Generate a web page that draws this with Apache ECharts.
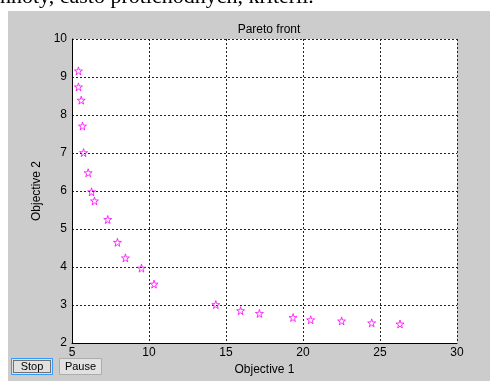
<!DOCTYPE html>
<html>
<head>
<meta charset="utf-8">
<script src="https://cdn.jsdelivr.net/npm/echarts@6/dist/echarts.min.js"></script>
<style>
html,body{margin:0;padding:0;background:#fff;}
#c{width:490px;height:381px;}
</style>
</head>
<body>
<div id="c"></div>
<script>
var objective1 = [5.42, 5.42, 5.60, 5.68, 5.75, 6.05, 6.27, 6.46, 7.32, 7.95, 8.47, 9.51, 10.33, 14.34, 15.95, 17.17, 19.35, 20.50, 22.51, 24.46, 26.30];
var objective2 = [9.16, 8.74, 8.39, 7.71, 7.01, 6.48, 5.98, 5.74, 5.25, 4.65, 4.24, 3.97, 3.55, 3.01, 2.85, 2.78, 2.67, 2.61, 2.58, 2.53, 2.50];
var titleText = 'Pareto front';
var xName = 'Objective 1';
var yName = 'Objective 2';
var headerText = 'hnoty, často protichodných, kritérií.';
var buttonLabels = ['Stop', 'Pause'];

var points = objective1.map(function (x, i) { return [x, objective2[i]]; });
var star = 'path://M50,0 L61,35 L98,35 L68,57 L79,91 L50,70 L21,91 L32,57 L2,35 L39,35 Z';
var font = 'Arial, "Liberation Sans", sans-serif';

var chart = echarts.init(document.getElementById('c'), null, {renderer: 'canvas'});
chart.setOption({
  animation: false,
  backgroundColor: '#ffffff',
  title: {
    text: titleText, left: 264, top: 19, textAlign: 'center',
    textStyle: {fontFamily: font, fontSize: 12, fontWeight: 'normal', color: '#000'}
  },
  grid: {
    left: 72, top: 39, right: 33, bottom: 38,
    show: true, backgroundColor: '#ffffff', borderWidth: 0
  },
  xAxis: {
    type: 'value', min: 5, max: 30, interval: 5,
    name: xName, nameLocation: 'middle', nameGap: 20,
    nameTextStyle: {fontFamily: font, fontSize: 12, color: '#000'},
    axisLine: {show: true, onZero: false, lineStyle: {color: '#000', width: 1}},
    axisTick: {show: false},
    axisLabel: {fontFamily: font, fontSize: 12, color: '#000', margin: 4},
    splitLine: {show: true, lineStyle: {color: '#222', width: 1, type: [2, 2]}}
  },
  yAxis: {
    type: 'value', min: 2, max: 10, interval: 1,
    name: yName, nameLocation: 'middle', nameGap: 23,
    nameTextStyle: {fontFamily: font, fontSize: 12, color: '#000'},
    axisLine: {show: true, onZero: false, lineStyle: {color: '#000', width: 1}},
    axisTick: {show: false},
    axisLabel: {fontFamily: font, fontSize: 12, color: '#000', margin: 5},
    splitLine: {show: true, lineStyle: {color: '#222', width: 1, type: [2, 2]}}
  },
  graphic: [
    {type: 'rect', z: -10, shape: {x: 8, y: 11, width: 482, height: 370}, style: {fill: '#cccccc'}, silent: true},
    {type: 'text', z: 10, x: 0, y: 8, style: {text: headerText, font: '22px "Liberation Serif", "Times New Roman", serif', fill: '#000', textVerticalAlign: 'bottom', verticalAlign: 'bottom'}},
    {type: 'rect', z: 10, shape: {x: 11.5, y: 358.5, width: 41, height: 16}, style: {fill: '#e1e1e1', stroke: '#3399ff', lineWidth: 1}},
    {type: 'rect', z: 10, shape: {x: 13.5, y: 360.5, width: 37, height: 12}, style: {fill: 'none', stroke: '#000', lineWidth: 1, lineDash: [1, 1]}},
    {type: 'text', z: 11, x: 32, y: 367, style: {text: buttonLabels[0], font: '11px ' + font, fill: '#000', textAlign: 'center', textVerticalAlign: 'middle', align: 'center', verticalAlign: 'middle'}},
    {type: 'rect', z: 10, shape: {x: 59.5, y: 358.5, width: 42, height: 16}, style: {fill: '#e1e1e1', stroke: '#adadad', lineWidth: 1}},
    {type: 'text', z: 11, x: 80.5, y: 367, style: {text: buttonLabels[1], font: '11px ' + font, fill: '#000', textAlign: 'center', textVerticalAlign: 'middle', align: 'center', verticalAlign: 'middle'}}
  ],
  series: [{
    type: 'scatter',
    data: points,
    symbol: star,
    symbolSize: 8,
    itemStyle: {color: 'rgba(0,0,0,0)', borderColor: '#ff00ff', borderWidth: 1}
  }]
});
</script>
</body>
</html>
